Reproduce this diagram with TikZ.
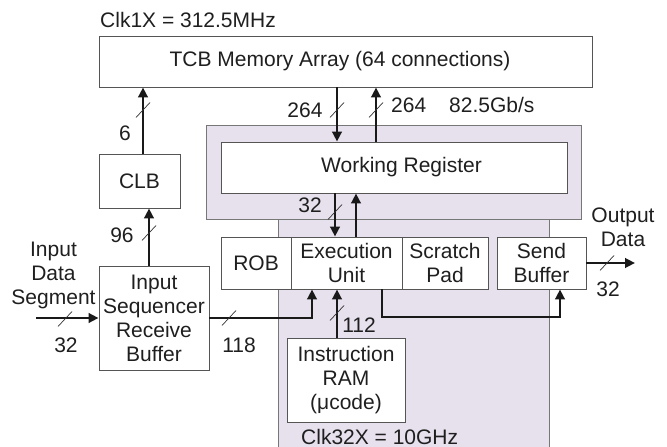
\documentclass[tikz,border=0pt]{standalone}
\usepackage{fontspec}
\setmainfont{Liberation Sans}
\usetikzlibrary{arrows.meta,calc}
\definecolor{lav}{HTML}{E7E0ED}
\definecolor{edgec}{HTML}{555555}
\tikzset{
  txt/.style={font=\fontsize{21bp}{24bp}\selectfont, text=black!88, inner sep=0pt},
  blk/.style={txt, draw=edgec, line width=0.9bp, fill=white, align=center},
  bus/.style={line width=2.6bp, draw=black!90, -{Triangle[length=10bp,width=9.5bp]}},
  slashln/.style={line width=0.7bp, draw=black!80},
  region/.style={fill=lav, draw=edgec!80, line width=0.8bp},
}
\newcommand\bslash[1]{\draw[slashln] ($(#1)+(-7,7.5)$) -- ($(#1)+(7,-7.5)$);}
\begin{document}
\begin{tikzpicture}[x=1bp,y=-1bp]
\useasboundingbox (0,0) rectangle (667,447);
% shaded clock domain
\path[region] (278,219) rectangle (549,448);
\path[region] (206,125) rectangle (581,219);
% boxes
\node[blk, minimum width=493bp, minimum height=51bp] (tcb) at (345.5,61.5) {TCB Memory Array (64 connections)\hspace*{11bp}};
\node[blk, minimum width=346bp, minimum height=51bp] (wr) at (394,167.5) {\hspace*{15bp}Working Register};
\node[blk, minimum width=81bp, minimum height=54bp] (clb) at (139.5,181) {CLB};
\node[blk, minimum width=110bp, minimum height=104bp] (isrb) at (154,318) {Input\\Sequencer\\Receive\\Buffer};
\node[blk, minimum width=70bp, minimum height=52bp] (rob) at (256,263) {ROB};
\node[blk, minimum width=111bp, minimum height=52bp] (exec) at (346.5,263) {Execution\\Unit};
\node[blk, minimum width=86bp, minimum height=52bp] (scr) at (445,263) {Scratch\\Pad};
\node[blk, minimum width=89bp, minimum height=52bp] (send) at (541.5,263) {Send\\Buffer};
\node[blk, minimum width=118bp, minimum height=84bp] (iram) at (346,380) {Instruction\\RAM\\(μcode)};
% helper coordinates
\coordinate (xa) at (337,0);
\coordinate (xb) at (376,0);
\coordinate (xc) at (335,0);
\coordinate (xd) at (356,0);
\coordinate (xe) at (312,0);
\coordinate (xf) at (382,0);
\coordinate (xg) at (560,0);
\coordinate (yb) at (0,317);
\coordinate (inS) at (36,318);
\coordinate (outE) at (635,263);
% connectors
\draw[bus] ([xshift=3.5bp]clb.north) -- ([xshift=3.5bp]clb.north |- tcb.south);
\draw[bus] ([xshift=-5bp]isrb.north) -- ([xshift=-5bp]isrb.north |- clb.south);
\draw[bus] (xa |- tcb.south) -- (xa |- wr.north);
\draw[bus] (xb |- wr.north) -- (xb |- tcb.south);
\draw[bus] (xc |- wr.south) -- (xc |- exec.north);
\draw[bus] (xd |- exec.north) -- (xd |- wr.south);
\draw[bus] (inS) -- (inS -| isrb.west);
\draw[bus] (isrb.east) -- (xe |- isrb.east) -- (xe |- exec.south);
\draw[bus] (xa |- iram.north) -- (xa |- exec.south);
\draw[bus] (xf |- exec.south) -- (xf |- yb) -- (xg |- yb) -- (xg |- send.south);
\draw[bus] (send.east |- outE) -- (outE);
% bus width slashes
\bslash{143,110}
\bslash{337,110}
\bslash{376,110}
\bslash{335,212}
\bslash{149,233}
\bslash{65,319}
\bslash{229,318}
\bslash{337,313}
\bslash{607,263}
% labels
\node[txt, anchor=base west] (clk1) at (100,28) {Clk1X = 312.5MHz};
\node[txt, anchor=base west] (clk32) at (301,444) {Clk32X = 10GHz};
\node[txt, anchor=base] (l6) at (125,140.5) {6};
\node[txt, anchor=base] (l264a) at (305,118) {264};
\node[txt, anchor=base west] (l264b) at (391,113) {264};
\node[txt, anchor=base west] (lgb) at (449,113) {82.5Gb/s};
\node[txt, anchor=base] (l32a) at (310,213) {32};
\node[txt, anchor=base] (l96) at (122,243) {96};
\node[txt, anchor=north, align=center] (lin) at (53.5,242) {Input\\Data\\Segment};
\node[txt, anchor=base] (l32b) at (66,352) {32};
\node[txt, anchor=base] (l118) at (239,352) {118};
\node[txt, anchor=base] (l112) at (359,333) {112};
\node[txt, anchor=north, align=center] (lout) at (623,208) {Output\\Data};
\node[txt, anchor=base] (l32c) at (608,297) {32};
\end{tikzpicture}
\end{document}
